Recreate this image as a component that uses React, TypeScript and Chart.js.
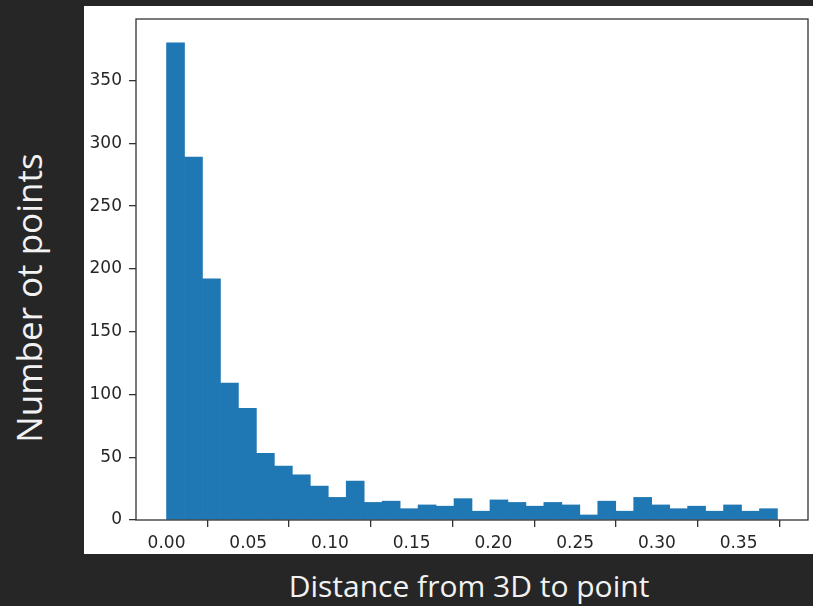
import React, { useEffect, useRef } from "react";
import { Chart, registerables } from "chart.js";

Chart.register(...registerables);

// ---- data ----
const binCounts = [
  380, 289, 192, 109, 89, 53, 43, 36, 27, 18, 31, 14, 15, 9, 12, 11, 17,
  7, 16, 14, 11, 14, 12, 4, 15, 7, 18, 12, 9, 11, 7, 12, 7, 9,
];
const dataMin = 0.0;
const dataMax = 0.3738;
const xTicks = [0, 0.05, 0.1, 0.15, 0.2, 0.25, 0.3, 0.35];
const yTicks = [0, 50, 100, 150, 200, 250, 300, 350];
const xTitle = "Distance from 3D to point";
const yTitle = "Number ot points";

const BAR_COLOR = "#1f77b4";
const AXIS_COLOR = "#333333";

const framePlugin = {
  id: "frame",
  afterDraw(chart: any) {
    const { ctx, chartArea } = chart;
    ctx.save();
    ctx.strokeStyle = AXIS_COLOR;
    ctx.lineWidth = 1.3;
    ctx.strokeRect(
      chartArea.left,
      chartArea.top,
      chartArea.right - chartArea.left,
      chartArea.bottom - chartArea.top
    );
    ctx.restore();
  },
};

export default function App() {
  const canvasRef = useRef<HTMLCanvasElement | null>(null);

  useEffect(() => {
    if (!canvasRef.current) return;
    const binWidth = (dataMax - dataMin) / binCounts.length;
    const points = binCounts.map((c, i) => ({
      x: dataMin + (i + 0.5) * binWidth,
      y: c,
    }));
    const range = dataMax - dataMin;
    const xMin = dataMin - 0.05 * range;
    const xMax = dataMax + 0.05 * range;
    const yMax = Math.max(...binCounts) * 1.05;

    const tickFont = { family: "'DejaVu Sans', sans-serif", size: 17 };

    const chart = new Chart(canvasRef.current, {
      type: "bar",
      data: {
        datasets: [
          {
            data: points as any,
            backgroundColor: BAR_COLOR,
            borderWidth: 0,
            barPercentage: 1,
            categoryPercentage: 1,
          },
        ],
      },
      options: {
        responsive: false,
        animation: false,
        layout: { padding: { top: 13, right: 5, left: 0, bottom: 0 } },
        plugins: {
          legend: { display: false },
          tooltip: { enabled: false },
        },
        scales: {
          x: {
            type: "linear",
            min: xMin,
            max: xMax,
            offset: false,
            grid: {
              display: true,
              drawOnChartArea: false,
              drawTicks: true,
              tickLength: 7,
              color: AXIS_COLOR,
              lineWidth: 1.3,
            },
            border: { display: false },
            ticks: {
              color: "#262626",
              font: tickFont,
              padding: 6,
              maxRotation: 0,
              autoSkip: false,
              callback: (v: any) => Number(v).toFixed(2),
            },
            afterBuildTicks: (s: any) => {
              s.ticks = xTicks.map((v) => ({ value: v }));
            },
            afterFit: (s: any) => {
              s.height = 34;
              s.paddingLeft = 0;
              s.paddingRight = 0;
            },
          },
          y: {
            type: "linear",
            min: 0,
            max: yMax,
            grid: {
              display: true,
              drawOnChartArea: false,
              drawTicks: true,
              tickLength: 7,
              color: AXIS_COLOR,
              lineWidth: 1.3,
            },
            border: { display: false },
            ticks: {
              color: "#262626",
              font: tickFont,
              padding: 7,
              autoSkip: false,
              callback: (v: any) => String(Math.round(Number(v))),
            },
            afterBuildTicks: (s: any) => {
              s.ticks = yTicks.map((v) => ({ value: v }));
            },
            afterFit: (s: any) => {
              s.width = 52;
              s.paddingTop = 0;
              s.paddingBottom = 0;
            },
          },
        },
      },
      plugins: [framePlugin],
    });
    return () => chart.destroy();
  }, []);

  const titleFont = "'Open Sans', 'Noto Sans', sans-serif";

  return (
    <div
      style={{
        position: "fixed",
        left: 0,
        top: 0,
        width: 813,
        height: 606,
        background: "#262626",
        overflow: "hidden",
      }}
    >
      <div
        style={{
          position: "absolute",
          left: 84,
          top: 6,
          width: 729,
          height: 548,
          background: "#ffffff",
        }}
      >
        <canvas ref={canvasRef} width={729} height={548} style={{ display: "block" }} />
      </div>
      <div
        style={{
          position: "absolute",
          left: 29 - 250,
          top: 298 - 25,
          width: 500,
          height: 50,
          lineHeight: "50px",
          textAlign: "center",
          transform: "rotate(-90deg)",
          color: "#f2f2f2",
          fontFamily: titleFont,
          fontSize: 35,
          whiteSpace: "nowrap",
        }}
      >
        {yTitle}
      </div>
      <div
        style={{
          position: "absolute",
          left: 469 - 250,
          top: 586 - 22,
          width: 500,
          height: 44,
          lineHeight: "44px",
          textAlign: "center",
          color: "#f2f2f2",
          fontFamily: titleFont,
          fontSize: 30,
          whiteSpace: "nowrap",
        }}
      >
        {xTitle}
      </div>
    </div>
  );
}
